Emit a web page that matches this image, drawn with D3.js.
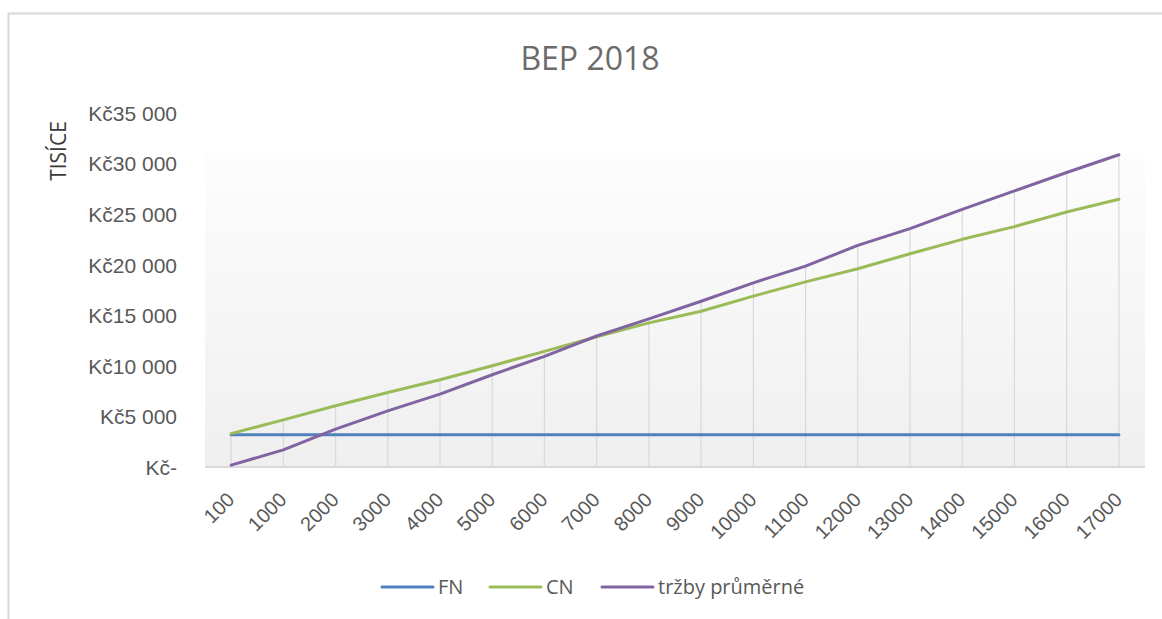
<!DOCTYPE html>
<html>
<head>
<meta charset="utf-8">
<script src="https://cdn.jsdelivr.net/npm/d3@7"></script>
<style>
  html, body { margin: 0; padding: 0; background: #fff; }
  svg { display: block; font-family: "Open Sans", "Noto Sans", sans-serif; }
</style>
</head>
<body>
<svg id="chart" width="1162" height="619"></svg>
<script>
// Break-even chart 2018 (values in thousands of CZK)
const categories = ["100", "1000", "2000", "3000", "4000", "5000", "6000", "7000", "8000",
  "9000", "10000", "11000", "12000", "13000", "14000", "15000", "16000", "17000"];

// fixed costs
const fn = [3200, 3200, 3200, 3200, 3200, 3200, 3200, 3200, 3200,
  3200, 3200, 3200, 3200, 3200, 3200, 3200, 3200, 3200];
// total costs
const cn = [3300, 4660, 6050, 7370, 8630, 10010, 11430, 12880, 14250,
  15400, 16890, 18300, 19600, 21090, 22510, 23770, 25210, 26470];
// average revenue
const trzby = [180, 1690, 3740, 5550, 7210, 9120, 10940, 12950, 14640,
  16390, 18210, 19860, 21910, 23570, 25480, 27300, 29120, 30870];

const seriesNames = ["FN", "CN", "tržby průměrné"];
const seriesColors = ["#4f81bd", "#9bbb59", "#8064a2"];
const yTicks = [0, 5000, 10000, 15000, 20000, 25000, 30000, 35000];

const series = [fn, cn, trzby];

const svg = d3.select("#chart");

// outer chart frame
svg.append("rect")
  .attr("x", 8.5).attr("y", 13.5)
  .attr("width", 1170).attr("height", 630)
  .attr("fill", "#fff").attr("stroke", "#d9d9d9").attr("stroke-width", 2);

const plot = { left: 205, right: 1145, top: 153, bottom: 467 };

const x = d3.scalePoint().domain(categories).range([plot.left, plot.right]).padding(0.5);
const y = d3.scaleLinear().domain([0, 35000]).range([plot.bottom, 113]);

// plot area gradient
const defs = svg.append("defs");
const grad = defs.append("linearGradient").attr("id", "bg")
  .attr("x1", 0).attr("y1", 0).attr("x2", 0).attr("y2", 1);
grad.append("stop").attr("offset", "0%").attr("stop-color", "#fdfdfd");
grad.append("stop").attr("offset", "100%").attr("stop-color", "#efefef");

svg.append("rect")
  .attr("x", plot.left).attr("y", plot.top)
  .attr("width", plot.right - plot.left).attr("height", plot.bottom - plot.top)
  .attr("fill", "url(#bg)");

// drop lines from the highest series value down to the axis
svg.append("g").selectAll("line")
  .data(categories)
  .join("line")
  .attr("x1", d => x(d)).attr("x2", d => x(d))
  .attr("y1", (d, i) => y(d3.max(series, s => s[i])))
  .attr("y2", y(0))
  .attr("stroke", "#d9d9d9").attr("stroke-width", 1.2);

// category axis
const xAxis = svg.append("g")
  .attr("transform", `translate(0,${plot.bottom})`)
  .call(d3.axisBottom(x).tickSize(0).tickPadding(0));
xAxis.select(".domain")
  .attr("d", `M${plot.left},0H${plot.right}`)
  .attr("stroke", "#d9d9d9").attr("stroke-width", 2);
xAxis.selectAll(".tick text")
  .attr("fill", "#595959")
  .attr("font-size", 20)
  .attr("text-anchor", "end")
  .attr("dy", 0)
  .attr("y", 0)
  .attr("transform", "translate(4,34) rotate(-45)");

// value axis
const fmt = v => v === 0 ? "Kč-" : "Kč" + d3.format(",")(v).replace(/,/g, " ");
const yAxis = svg.append("g")
  .attr("transform", `translate(177,0)`)
  .call(d3.axisLeft(y).tickValues(yTicks).tickFormat(fmt).tickSize(0).tickPadding(0));
yAxis.select(".domain").remove();
yAxis.selectAll(".tick text")
  .attr("fill", "#595959")
  .attr("font-size", 21)
  .attr("dy", "0.35em");

// axis title
svg.append("text")
  .attr("transform", "translate(66,151) rotate(-90)")
  .attr("text-anchor", "middle")
  .attr("fill", "#3a3a3a")
  .attr("font-size", 21)
  .text("TISÍCE");

// chart title
svg.append("text")
  .attr("x", 590).attr("y", 70)
  .attr("text-anchor", "middle")
  .attr("fill", "#6b6b6b")
  .attr("font-size", 32)
  .text("BEP 2018");

// series lines
const line = d3.line()
  .x((d, i) => x(categories[i]))
  .y(d => y(d));

svg.append("g").selectAll("path")
  .data(series)
  .join("path")
  .attr("d", d => line(d))
  .attr("fill", "none")
  .attr("stroke", (d, i) => seriesColors[i])
  .attr("stroke-width", 3)
  .attr("stroke-linecap", "round")
  .attr("stroke-linejoin", "round");

// legend
const legendX = [382, 490, 602];
const legend = svg.append("g").selectAll("g")
  .data(seriesNames)
  .join("g")
  .attr("transform", (d, i) => `translate(${legendX[i]},587)`);
legend.append("line")
  .attr("x1", 0).attr("x2", 51)
  .attr("stroke", (d, i) => seriesColors[i])
  .attr("stroke-width", 3)
  .attr("stroke-linecap", "round");
legend.append("text")
  .attr("x", 56).attr("dy", "0.35em")
  .attr("fill", "#595959")
  .attr("font-size", 20)
  .text(d => d);
</script>
</body>
</html>
